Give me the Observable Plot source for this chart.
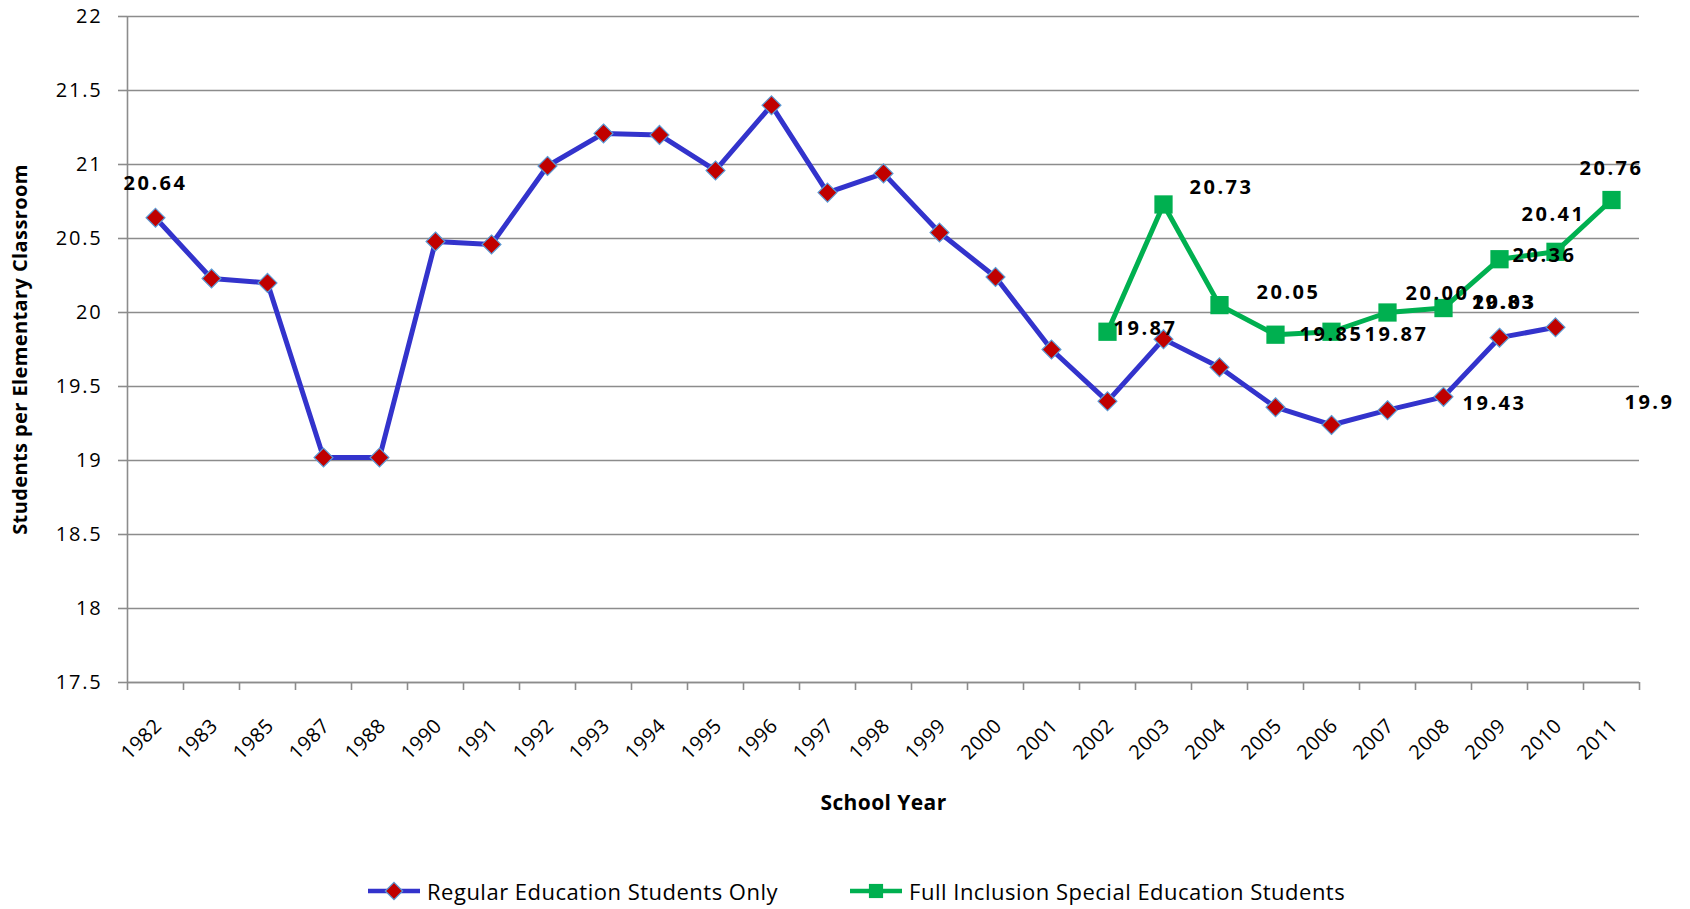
<!DOCTYPE html>
<html><head><meta charset="utf-8">
<script src="https://cdn.jsdelivr.net/npm/d3@7"></script>
<script src="https://cdn.jsdelivr.net/npm/@observablehq/plot@0.6"></script>
<style>
body{margin:0;background:#fff;font-family:"Open Sans",sans-serif;}
#chart{position:absolute;left:0;top:0;}
#legend{position:absolute;top:876px;left:368px;display:flex;align-items:center;font-size:22px;letter-spacing:0.5px;color:#000;}
.item{display:flex;align-items:center;}
.item svg{margin-right:7px;}
</style></head><body><div id="chart"></div><div id="legend"></div>
<script>
// ---- data ----
const years = ["1982","1983","1985","1987","1988","1990","1991","1992","1993","1994","1995","1996","1997","1998","1999","2000","2001","2002","2003","2004","2005","2006","2007","2008","2009","2010","2011"];
const regular = [20.64,20.23,20.20,19.02,19.02,20.48,20.46,20.99,21.21,21.20,20.96,21.40,20.81,20.94,20.54,20.24,19.75,19.40,19.82,19.63,19.36,19.24,19.34,19.43,19.83,19.90,null];
const inclusionYears = ["2002","2003","2004","2005","2006","2007","2008","2009","2010","2011"];
const inclusion = [19.87,20.73,20.05,19.85,19.87,20.00,20.03,20.36,20.41,20.76];
const yTicks = [17.5,18,18.5,19,19.5,20,20.5,21,21.5,22];
const seriesNames = ["Regular Education Students Only","Full Inclusion Special Education Students"];
// data labels (which points are labelled, with pixel offsets as in the original)
const regularLabels = [["1982",0,-34],["2008",51,7],["2009",4,-35],["2010",94,75]];
const inclusionLabels = [["2002",38,-3],["2003",58,-17],["2004",69,-13],["2005",56,0],["2006",65,3],["2007",50,-19],["2008",61,-5],["2009",45,-4],["2010",-2,-37],["2011",0,-31]];

const BLUE = "#3333cc", RED = "#c00000", GREEN = "#00b050", GRID = "#8c8c8c";
const regData = years.map((yr,i)=>({i, yr, v: regular[i]})).filter(d=>d.v!=null);
const incData = inclusionYears.map((yr,k)=>({i: years.indexOf(yr), yr, v: inclusion[k]}));
const fmtReg = v => String(v);
const fmtInc = d3.format(".2f");

const labelMarks = [];
for (const [yr,dx,dy] of regularLabels) {
  const d = regData.find(e=>e.yr===yr);
  labelMarks.push(Plot.text([d], {x:"i", y:"v", text: e=>fmtReg(e.v), dx, dy, fontWeight:"bold", fontSize:20, fill:"#000"}));
}
for (const [yr,dx,dy] of inclusionLabels) {
  const d = incData.find(e=>e.yr===yr);
  labelMarks.push(Plot.text([d], {x:"i", y:"v", text: e=>fmtInc(e.v), dx, dy, fontWeight:"bold", fontSize:20, fill:"#000"}));
}

const idx = d3.range(years.length);
const chart = Plot.plot({
  width: 1690, height: 860,
  marginLeft: 127, marginRight: 51, marginTop: 16, marginBottom: 178,
  style: {fontFamily: "'Open Sans', sans-serif", fontSize: "20px", color: "#000", background: "#fff", overflow: "visible"},
  x: {type: "linear", domain: [-0.5, years.length - 0.5]},
  y: {domain: [17.5, 22]},
  marks: [
    Plot.gridY(yTicks, {stroke: GRID, strokeOpacity: 1, strokeWidth: 1.6}),
    Plot.axisY(yTicks, {tickSize: 9, tickPadding: 16, stroke: GRID, strokeWidth: 1.6, tickFormat: d => String(d), label: null, fontSize: 20}),
    Plot.ruleX([-0.5], {stroke: GRID, strokeWidth: 1.6}),
    Plot.ruleY([17.5], {stroke: GRID, strokeWidth: 1.6}),
    Plot.axisX(d3.range(years.length + 1).map(i => i - 0.5), {tickSize: 8, stroke: GRID, strokeWidth: 1.6, tickFormat: () => "", label: null}),
    Plot.axisX(idx, {tickSize: 0, tickPadding: 40, dx: 3, tickRotate: -45, tickFormat: i => years[i], label: null, fontSize: 20}),
    Plot.text(["Students per Elementary Classroom"], {frameAnchor: "left", textAnchor: "middle", dx: -107, rotate: -90, fontWeight: "bold", fontSize: 20, fill: "#000"}),
    Plot.text(["School Year"], {frameAnchor: "bottom", dy: 127, fontWeight: "bold", fontSize: 21, fill: "#000"}),
    Plot.line(regData, {x: "i", y: "v", stroke: BLUE, strokeWidth: 5, strokeLinejoin: "round"}),
    Plot.dot(regData, {x: "i", y: "v", symbol: "diamond2", r: 8.5, fill: RED, stroke: "#5b9bd5", strokeWidth: 1.2}),
    Plot.line(incData, {x: "i", y: "v", stroke: GREEN, strokeWidth: 5, strokeLinejoin: "round"}),
    Plot.dot(incData, {x: "i", y: "v", symbol: "square", r: 10.3, fill: GREEN}),
    ...labelMarks
  ]
});
document.getElementById("chart").appendChild(chart);
const svg = d3.select(chart);
svg.selectAll('g[aria-label="y-axis tick label"] text').style("letter-spacing", "1.8px");
svg.selectAll('g[aria-label="x-axis tick label"] text').style("letter-spacing", "0.5px");
svg.selectAll('g[font-weight="bold"] text').each(function() {
  d3.select(this).style("letter-spacing", this.textContent.length > 6 ? "0.4px" : "2.5px");
});

// legend
const legend = d3.select("#legend");
const it1 = legend.append("div").attr("class","item").style("margin-right","72px");
const s1 = it1.append("svg").attr("width",52).attr("height",22);
s1.append("line").attr("x1",0).attr("x2",52).attr("y1",11).attr("y2",11).attr("stroke",BLUE).attr("stroke-width",4.5);
s1.append("path").attr("d", d3.symbol(d3.symbolDiamond2, Math.PI*7.8*7.8)()).attr("transform","translate(26,11)").attr("fill",RED).attr("stroke","#5b9bd5").attr("stroke-width",1.2);
it1.append("span").text(seriesNames[0]);
const it2 = legend.append("div").attr("class","item");
const s2 = it2.append("svg").attr("width",52).attr("height",22);
s2.append("line").attr("x1",0).attr("x2",52).attr("y1",11).attr("y2",11).attr("stroke",GREEN).attr("stroke-width",4.5);
s2.append("path").attr("d", d3.symbol(d3.symbolSquare, Math.PI*8*8)()).attr("transform","translate(26,11)").attr("fill",GREEN);
it2.append("span").text(seriesNames[1]);
</script></body></html>
